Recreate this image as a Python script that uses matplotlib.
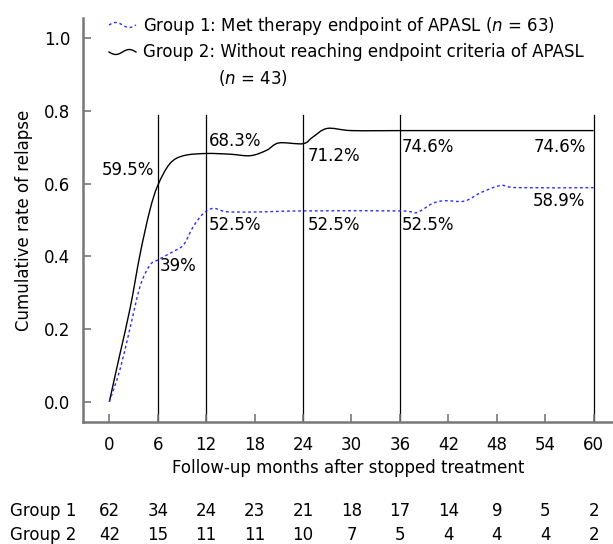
import numpy as np
import matplotlib
matplotlib.use("Agg")
import matplotlib.pyplot as plt
from matplotlib.path import Path
from matplotlib.patches import PathPatch
from matplotlib.lines import Line2D

plt.rcParams['font.family'] = ['DejaVu Sans']

# Cumulative relapse curves (month, cumulative rate)
g1_months = [0, 1.3, 2.6, 3.8, 5.0, 6, 7.9, 9.2, 10.4, 11.65, 12.9, 14.5, 18, 24, 36, 38, 40, 41.5, 44, 46, 48.5, 50.5, 60]
g1_rate = [0, 0.087, 0.206, 0.317, 0.375, 0.39, 0.413, 0.432, 0.482, 0.518, 0.532, 0.523, 0.522, 0.525, 0.525, 0.520, 0.545, 0.553, 0.552, 0.575, 0.595, 0.589, 0.589]

g2_months = [0, 1.3, 2.6, 3.8, 5.0, 6, 7.5, 9.2, 12, 15, 17.5, 19.5, 21, 24, 25.2, 27, 30, 36, 60]
g2_rate = [0, 0.13, 0.26, 0.405, 0.525, 0.595, 0.655, 0.677, 0.683, 0.681, 0.677, 0.692, 0.712, 0.710, 0.728, 0.752, 0.746, 0.746, 0.746]

xticks = [0, 6, 12, 18, 24, 30, 36, 42, 48, 54, 60]
yticks = [0.0, 0.2, 0.4, 0.6, 0.8, 1.0]
ref_lines = [6, 12, 24, 36, 60]

# Rate annotations: (month, y, text, ha)
annotations = [
    (5.6, 0.637, "59.5%", "right"),
    (6.3, 0.374, "39%", "left"),
    (12.35, 0.717, "68.3%", "left"),
    (12.35, 0.486, "52.5%", "left"),
    (24.55, 0.676, "71.2%", "left"),
    (24.55, 0.486, "52.5%", "left"),
    (36.2, 0.700, "74.6%", "left"),
    (36.2, 0.486, "52.5%", "left"),
    (59.0, 0.700, "74.6%", "right"),
    (59.0, 0.552, "58.9%", "right"),
]

at_risk_g1 = [62, 34, 24, 23, 21, 18, 17, 14, 9, 5, 2]
at_risk_g2 = [42, 15, 11, 11, 10, 7, 5, 4, 4, 4, 2]


def smooth_path(xs, ys):
    """Catmull-Rom spline through the points, as a cubic Bezier path."""
    pts = np.column_stack([xs, ys]).astype(float)
    n = len(pts)
    verts = [pts[0]]
    codes = [Path.MOVETO]
    for i in range(n - 1):
        p0 = pts[i - 1] if i > 0 else pts[i]
        p1 = pts[i]
        p2 = pts[i + 1]
        p3 = pts[i + 2] if i + 2 < n else pts[i + 1]
        c1 = p1 + (p2 - p0) / 6.0
        c2 = p2 - (p3 - p1) / 6.0
        verts += [c1, c2, p2]
        codes += [Path.CURVE4] * 3
    return Path(verts, codes)


W, H = 613, 544
fig = plt.figure(figsize=(W / 100, H / 100), dpi=100)
ax = fig.add_axes([82.7 / W, 1 - 421.7 / H, 1 - 82.7 / W, (421.7 - 18.3) / H])
ax.set_xlim(-3.3, 62.4)
ax.set_ylim(-0.055, 1.055)

for s in ("top", "right"):
    ax.spines[s].set_visible(False)
for s in ("left", "bottom"):
    ax.spines[s].set_color("#777777")
    ax.spines[s].set_linewidth(1.8)

ax.set_xticks(xticks)
ax.set_yticks(yticks)
ax.set_yticklabels([f"{v:.1f}" for v in yticks])
ax.tick_params(direction="in", length=6, width=1.2, color="#777777",
               labelsize=12, pad=10)
ax.tick_params(axis="y", pad=9)

for m in ref_lines:
    ax.plot([m, m], [-0.055, 0.79], color="black", lw=0.9, zorder=1)

ax.add_patch(PathPatch(smooth_path(g2_months, g2_rate), fill=False,
                       edgecolor="black", lw=1.0, zorder=3))
ax.add_patch(PathPatch(smooth_path(g1_months, g1_rate), fill=False,
                       edgecolor="#2a2aff", lw=1.0, linestyle=(0, (2, 2)), zorder=3))

for x, y, t, ha in annotations:
    ax.text(x, y, t, ha=ha, va="center", fontsize=12)

ax.set_xlabel("Follow-up months after stopped treatment", fontsize=12, labelpad=4)
ax.set_ylabel("Cumulative rate of relapse", fontsize=12, labelpad=8)

# Legend with small wavy handles
def fig_xy(px, py):
    return px / W, 1 - py / H

hx = np.linspace(109, 136, 30)
wave = np.sin((hx - 109) / 27 * 2 * np.pi)
x1, y1 = zip(*[fig_xy(a, b) for a, b in zip(hx, 25 - 2.5 * wave)])
fig.add_artist(Line2D(x1, y1, color="#2a2aff", lw=1.0, linestyle=(0, (2, 2))))
x2, y2 = zip(*[fig_xy(a, b) for a, b in zip(hx, 52 + 2.5 * wave)])
fig.add_artist(Line2D(x2, y2, color="black", lw=1.0))

fig.text(*fig_xy(143, 26), "Group 1: Met therapy endpoint of APASL ($\\it{n}$ = 63)",
         fontsize=12, va="center", ha="left")
fig.text(*fig_xy(143, 52), "Group 2: Without reaching endpoint criteria of APASL",
         fontsize=12, va="center", ha="left")
fig.text(*fig_xy(218, 78), "($\\it{n}$ = 43)", fontsize=12, va="center", ha="left")

# Number at risk table
for label, counts, py in (("Group 1", at_risk_g1, 511), ("Group 2", at_risk_g2, 535)):
    fig.text(*fig_xy(10, py), label, fontsize=12, va="center", ha="left")
    for m, c in zip(xticks, counts):
        xf = ax.transData.transform((m, 0))[0] / W
        fig.text(xf, 1 - py / H, str(c), fontsize=12, va="center", ha="center")

fig.savefig("out.png", dpi=100)
